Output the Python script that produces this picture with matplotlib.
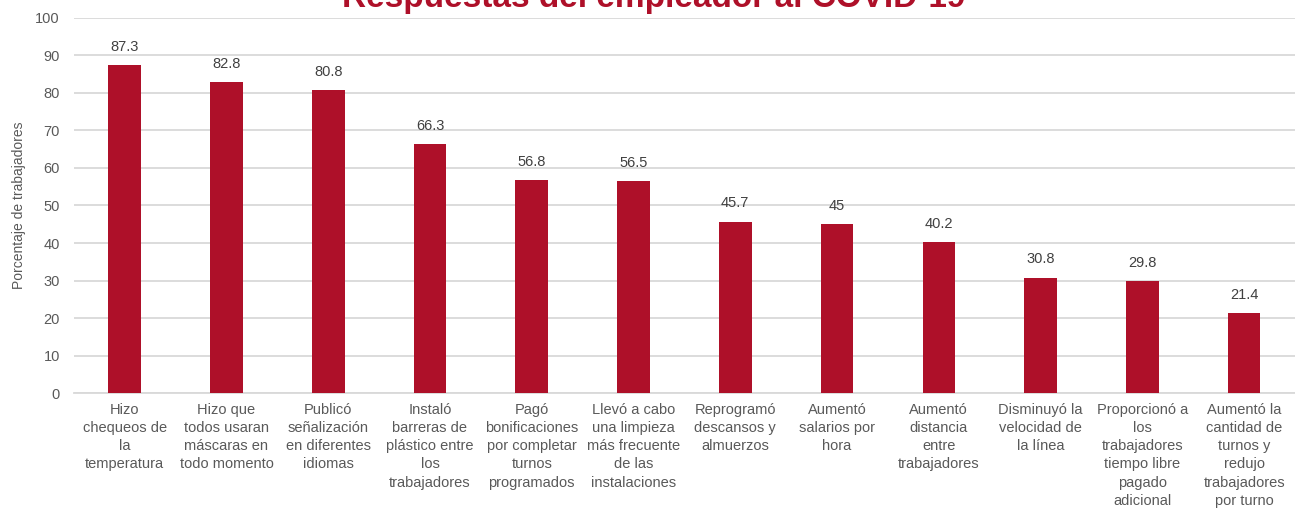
import numpy as np
from matplotlib import pyplot as plt

plt.rcParams['font.family'] = ['Liberation Sans', 'DejaVu Sans']

# Categories (wrapped the same way as the reference)
categories = [
    'Hizo\nchequeos de\nla\ntemperatura',
    'Hizo que\ntodos usaran\nmáscaras en\ntodo momento',
    'Publicó\nseñalización\nen diferentes\nidiomas',
    'Instaló\nbarreras de\nplástico entre\nlos\ntrabajadores',
    'Pagó\nbonificaciones\npor completar\nturnos\nprogramados',
    'Llevó a cabo\nuna limpieza\nmás frecuente\nde las\ninstalaciones',
    'Reprogramó\ndescansos y\nalmuerzos',
    'Aumentó\nsalarios por\nhora',
    'Aumentó\ndistancia\nentre\ntrabajadores',
    'Disminuyó la\nvelocidad de\nla línea',
    'Proporcionó a\nlos\ntrabajadores\ntiempo libre\npagado\nadicional',
    'Aumentó la\ncantidad de\nturnos y\nredujo\ntrabajadores\npor turno',
]
values = [87.3, 82.8, 80.8, 66.3, 56.8, 56.5, 45.7, 45, 40.2, 30.8, 29.8, 21.4]
value_labels = ['87.3', '82.8', '80.8', '66.3', '56.8', '56.5', '45.7', '45',
                '40.2', '30.8', '29.8', '21.4']

bar_color = '#ae1029'
text_color = '#595959'

fig = plt.figure(figsize=(12.95, 5.08), dpi=100)
ax = fig.add_axes([0.057, 0.226, 0.943, 0.739])

x = np.arange(len(values))
ax.bar(x, values, width=0.32, color=bar_color, zorder=3)

for xi, v, lab in zip(x, values, value_labels):
    ax.text(xi, v + 3, lab, ha='center', va='bottom', fontsize=10.5,
            color='#404040')

ax.set_xlim(-0.5, len(values) - 0.5)
ax.set_ylim(0, 100)
ax.set_yticks(range(0, 101, 10))
ax.yaxis.grid(True, color='#d9d9d9', linewidth=1.3, zorder=0)
ax.set_axisbelow(True)
for s in ['top', 'right', 'left']:
    ax.spines[s].set_visible(False)
ax.spines['bottom'].set_color('#d9d9d9')
ax.spines['bottom'].set_linewidth(1.3)

ax.set_xticks(x)
ax.set_xticklabels(categories, fontsize=10.5, color=text_color,
                   linespacing=1.38, va='top')
ax.tick_params(axis='x', length=0, pad=7)
ax.tick_params(axis='y', length=0, labelsize=10.5, labelcolor=text_color,
               pad=10)
ax.set_ylabel('Porcentaje de trabajadores', fontsize=10, color=text_color,
              labelpad=7)

fig.text(0.505, 1.033, 'Respuestas del empleador al COVID-19', ha='center',
         va='top', fontsize=24, fontweight='bold', color=bar_color)

fig.savefig('out.png', dpi=100)
